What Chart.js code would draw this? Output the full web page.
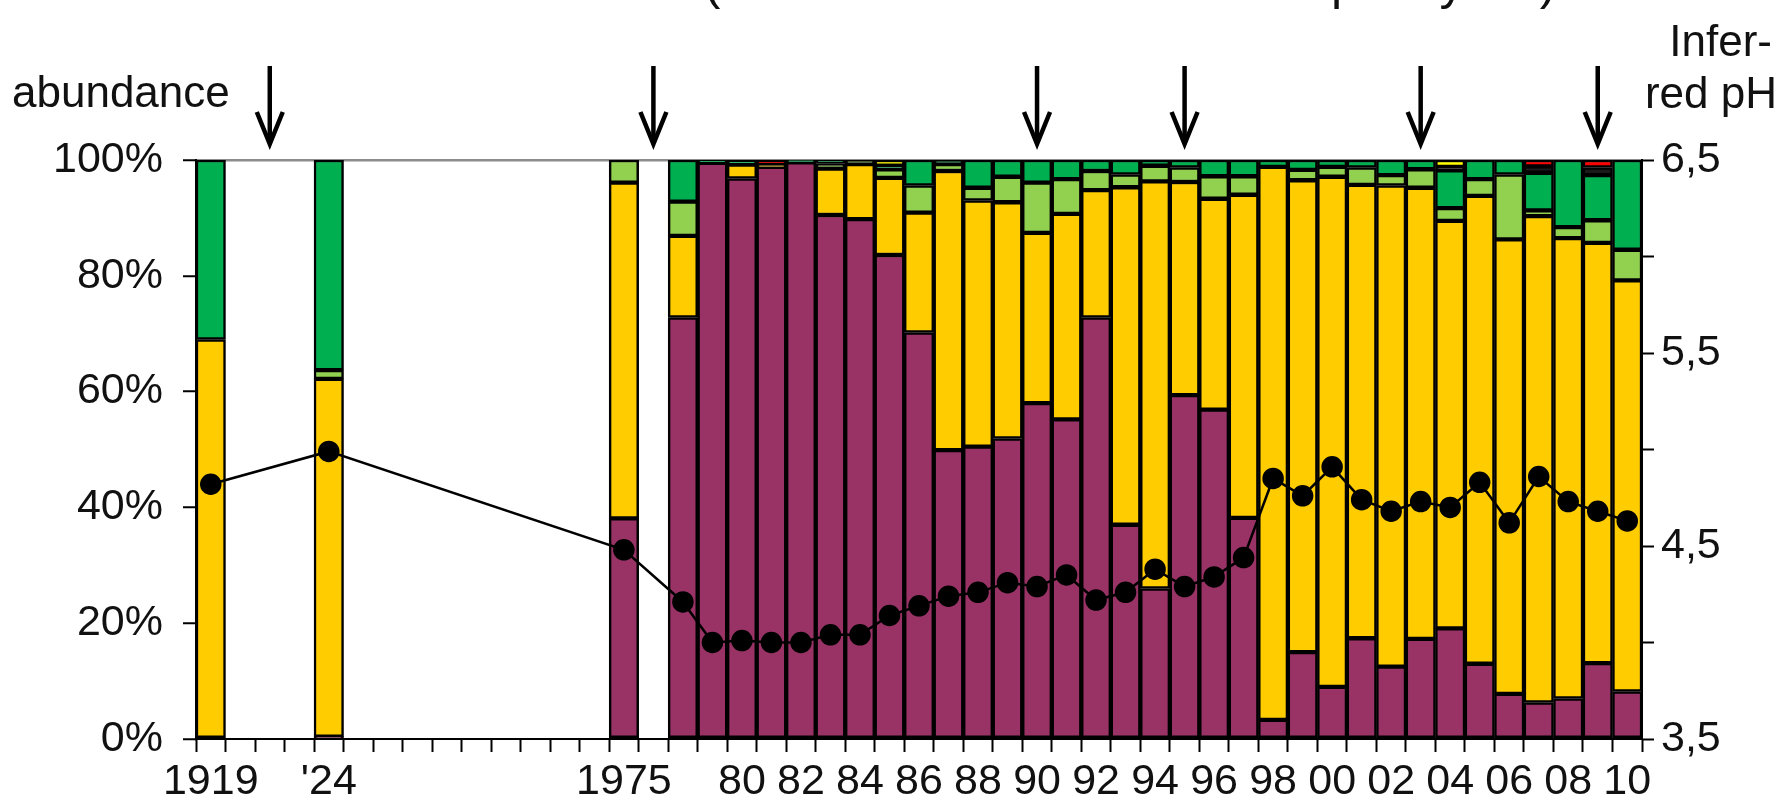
<!DOCTYPE html>
<html>
<head>
<meta charset="utf-8">
<script src="https://cdn.jsdelivr.net/npm/chart.js@4/dist/chart.umd.min.js"></script>
<style>
  html, body { margin: 0; padding: 0; background: #fff; }
  #wrap { width: 1787px; height: 811px; }
</style>
</head>
<body>
<div id="wrap"><canvas id="chart" width="1787" height="811"></canvas></div>
<script>
// one slot per sample; empty slots are the breaks in the time axis
const categories = [
  '1919', 'g1', 'g2', 'g3', '1924', 'g5', 'g6', 'g7', 'g8', 'g9', 'g10', 'g11', 'g12', 'g13',
  '1975', 'g15', '1978', '1979', '1980', '1981', '1982', '1983', '1984', '1985', '1986',
  '1987', '1988', '1989', '1990', '1991', '1992', '1993', '1994', '1995', '1996', '1997',
  '1998', '1999', '2000', '2001', '2002', '2003', '2004', '2005', '2006', '2007', '2008',
  '2009', '2010'
];
const tickLabels = [
  '1919', '', '', '', "'24", '', '', '', '', '', '', '', '', '',
  '1975', '', '', '', '80', '', '82', '', '84', '', '86',
  '', '88', '', '90', '', '92', '', '94', '', '96', '',
  '98', '', '00', '', '02', '', '04', '', '06', '', '08',
  '', '10'
];
const _ = null;
const purple = [
  _, _, _, _, 0.4, _, _, _, _, _, _, _, _, _,
  38.1, _, 72.8, 99.5, 96.8, 98.8, 99.6, 90.5, 89.8, 83.6, 70.2,
  49.9, 50.5, 51.9, 58.0, 55.2, 72.8, 37.0, 26.0, 59.4, 56.9, 38.2,
  3.3, 15.0, 9.0, 17.4, 12.5, 17.3, 19.1, 13.0, 7.8, 6.3, 7.0,
  13.1, 8.2
];
const yellow = [
  69.0, _, _, _, 61.8, _, _, _, _, _, _, _, _, _,
  58.0, _, 14.1, _, 2.4, 0.3, _, 8.0, 9.5, 13.3, 20.7,
  48.2, 42.5, 40.8, 29.4, 35.5, 22.0, 58.3, 70.3, 36.8, 36.4, 55.8,
  95.5, 81.5, 88.1, 78.3, 83.1, 77.9, 70.4, 80.8, 78.5, 84.0, 79.5,
  72.6, 71.0
];
const lightGreen = [
  _, _, _, _, 1.5, _, _, _, _, _, _, _, _, _,
  3.9, _, 5.9, _, _, _, _, 0.9, 0.7, 1.5, 4.7,
  1.2, 2.2, 4.4, 8.7, 6.0, 3.3, 2.2, 2.7, 2.5, 3.9, 3.2,
  _, 1.8, 1.7, 3.0, 1.8, 3.2, 2.2, 2.9, 11.2, 1.0, 1.9,
  3.9, 5.3
];
const darkGreen = [
  31.0, _, _, _, 36.3, _, _, _, _, _, _, _, _, _,
  _, _, 7.2, 0.5, 0.8, _, 0.4, 0.6, _, 0.6, 4.4,
  0.7, 4.8, 2.9, 3.9, 3.3, 1.9, 2.5, 1.0, 1.3, 2.8, 2.8,
  1.2, 1.7, 1.2, 1.3, 2.6, 1.6, 6.5, 3.3, 2.5, 6.5, 11.6,
  7.8, 15.5
];
const other = [
  _, _, _, _, _, _, _, _, _, _, _, _, _, _,
  _, _, _, _, _, _, _, _, _, _, _,
  _, _, _, _, _, _, _, _, _, _, _,
  _, _, _, _, _, _, 0.6, _, _, 1.1, _,
  1.3, _
];
const brightYellow = [
  _, _, _, _, _, _, _, _, _, _, _, _, _, _,
  _, _, _, _, _, _, _, _, _, 1.0, _,
  _, _, _, _, _, _, _, _, _, _, _,
  _, _, _, _, _, _, 1.2, _, _, _, _,
  _, _
];
const red = [
  _, _, _, _, _, _, _, _, _, _, _, _, _, _,
  _, _, _, _, _, 0.9, _, _, _, _, _,
  _, _, _, _, _, _, _, _, _, _, _,
  _, _, _, _, _, _, _, _, _, 1.1, _,
  1.3, _
];
const inferredPH = [
  4.82, _, _, _, 4.99, _, _, _, _, _, _, _, _, _,
  4.48, _, 4.21, 4.00, 4.01, 4.00, 4.00, 4.04, 4.04, 4.14, 4.19,
  4.24, 4.26, 4.31, 4.29, 4.35, 4.22, 4.26, 4.38, 4.29, 4.34, 4.44,
  4.85, 4.76, 4.91, 4.74, 4.68, 4.73, 4.70, 4.83, 4.62, 4.86, 4.73,
  4.68, 4.63
];
// arrows above the plot, by slot
const arrowSlots = [2, 15, 28, 33, 41, 47];
// the title line is cut off by the top edge, only these glyph tails show
const titleBits = [['(', 712], ['p', 1345], ['y', 1452], [')', 1548]];

const FONT = "'Liberation Sans', Arial, sans-serif";
Chart.defaults.font.family = FONT;
Chart.defaults.font.size = 43;
Chart.defaults.color = '#111';

function barSet(label, data, color) {
  return {
    type: 'bar', label, data,
    backgroundColor: color,
    borderColor: '#000',
    borderWidth: 2.5,
    borderSkipped: false,
    barPercentage: 1.0,
    categoryPercentage: 1.0,
    yAxisID: 'y',
    order: 1
  };
}

const extras = {
  id: 'extras',
  afterDraw(chart) {
    const ctx = chart.ctx;
    const x = chart.scales.x;
    ctx.save();
    ctx.fillStyle = '#111';
    ctx.textBaseline = 'alphabetic';

    ctx.font = '50px ' + FONT;
    ctx.textAlign = 'center';
    for (const [t, px] of titleBits) ctx.fillText(t, px, -1);

    ctx.font = '44px ' + FONT;
    ctx.textAlign = 'left';
    ctx.fillText('abundance', 12, 107);
    ctx.textAlign = 'right';
    ctx.fillText('Infer-', 1772, 56);
    ctx.fillText('red pH', 1777, 108);

    ctx.strokeStyle = '#000';
    ctx.lineWidth = 4.5;
    ctx.lineCap = 'butt';
    for (const s of arrowSlots) {
      const px = x.getPixelForValue(s);
      const top = 66, tip = 144;
      ctx.beginPath();
      ctx.moveTo(px, top);
      ctx.lineTo(px, tip - 3);
      ctx.stroke();
      ctx.beginPath();
      ctx.moveTo(px - 13, tip - 32);
      ctx.lineTo(px, tip);
      ctx.lineTo(px + 13, tip - 32);
      ctx.stroke();
    }
    ctx.restore();
  }
};

new Chart(document.getElementById('chart'), {
  data: {
    labels: categories,
    datasets: [
      {
        type: 'line', label: 'Inferred pH', data: inferredPH,
        yAxisID: 'y1', order: 0,
        borderColor: '#000', borderWidth: 2.5,
        pointRadius: 9.5, pointBackgroundColor: '#000', pointBorderColor: '#000',
        spanGaps: true, tension: 0
      },
      barSet('purple', purple, '#993366'),
      barSet('yellow', yellow, '#FFCC00'),
      barSet('light green', lightGreen, '#92D050'),
      barSet('dark green', darkGreen, '#00B050'),
      barSet('other', other, '#1a1a1a'),
      barSet('bright yellow', brightYellow, '#FFFF00'),
      barSet('red', red, '#FF0000')
    ]
  },
  options: {
    responsive: false,
    animation: false,
    layout: { padding: { top: 160, left: 0, right: 0, bottom: 0 } },
    plugins: { legend: { display: false }, tooltip: { enabled: false } },
    scales: {
      x: {
        stacked: true,
        offset: true,
        grid: {
          offset: true, drawOnChartArea: false, drawTicks: true,
          tickLength: 13, tickColor: '#000', tickWidth: 2, color: '#000'
        },
        border: { display: true, color: '#000', width: 2 },
        ticks: {
          autoSkip: false, maxRotation: 0, padding: 4,
          callback: (v, i) => tickLabels[i]
        },
        afterFit: s => { s.height = 72; }
      },
      y: {
        stacked: true, min: 0, max: 100,
        ticks: { stepSize: 20, padding: 20, callback: v => v + '%' },
        grid: {
          color: c => c.tick && c.tick.value === 100 ? '#8c8c8c' : 'rgba(0,0,0,0)',
          lineWidth: 2.5, tickColor: '#000', tickWidth: 2, tickLength: 13, drawTicks: true
        },
        border: { display: true, color: '#000', width: 2 },
        afterFit: s => { s.width = 196; }
      },
      y1: {
        position: 'right', min: 3.5, max: 6.5,
        ticks: {
          stepSize: 0.5, padding: 7,
          callback: v => (Math.round(v * 2) % 2 === 1) ? v.toFixed(1).replace('.', ',') : ''
        },
        grid: { drawOnChartArea: false, tickColor: '#000', tickWidth: 2, tickLength: 12 },
        border: { display: true, color: '#000', width: 2 },
        afterFit: s => { s.width = 145; }
      }
    }
  },
  plugins: [extras]
});
</script>
</body>
</html>
